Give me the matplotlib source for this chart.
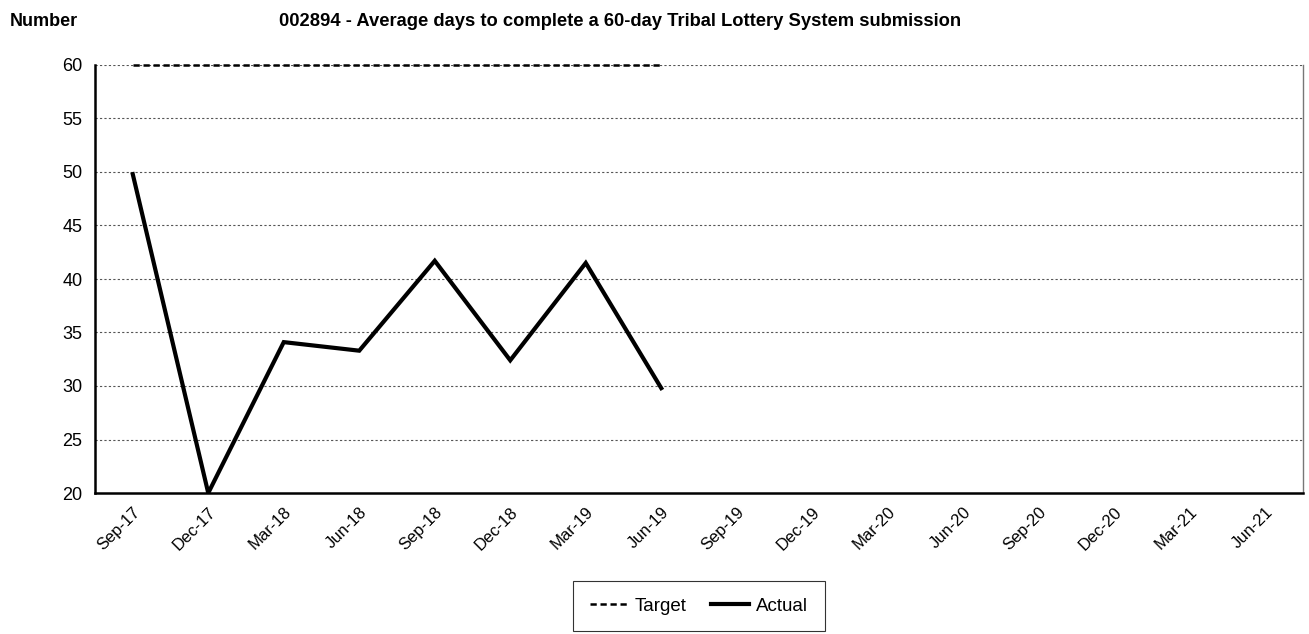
import matplotlib
matplotlib.use("Agg")
import matplotlib.pyplot as plt

plt.rcParams['font.family'] = ['Liberation Sans', 'DejaVu Sans']

categories = ["Sep-17", "Dec-17", "Mar-18", "Jun-18", "Sep-18", "Dec-18", "Mar-19", "Jun-19",
              "Sep-19", "Dec-19", "Mar-20", "Jun-20", "Sep-20", "Dec-20", "Mar-21", "Jun-21"]
actual = [49.8, 20.0, 34.1, 33.3, 41.7, 32.4, 41.5, 29.8]
target = [60, 60, 60, 60, 60, 60, 60, 60]
y_ticks = [20, 25, 30, 35, 40, 45, 50, 55, 60]

fig = plt.figure(figsize=(13.09, 6.34), dpi=100)
ax = fig.add_axes([95/1309, 1-493/634, (1303-95)/1309, (493-65)/634])

x_all = list(range(len(categories)))
ax.plot(x_all[:len(target)], target, color='black', linestyle=(0, (2.5, 1.5)), linewidth=1.8,
        label='Target', zorder=3, clip_on=False)
ax.plot(x_all[:len(actual)], actual, color='black', linewidth=3, label='Actual', zorder=4,
        solid_joinstyle='miter')

ax.set_xlim(-0.5, len(categories) - 0.5)
ax.set_ylim(20, 60)
ax.set_yticks(y_ticks)
ax.set_yticklabels([str(v) for v in y_ticks], fontsize=13)
ax.set_xticks(x_all)
ax.set_xticklabels(categories, rotation=45, ha='right', va='top', rotation_mode='anchor', fontsize=12)
ax.tick_params(axis='y', length=0, pad=9)
ax.tick_params(axis='x', length=0, pad=8)

for y in y_ticks[1:]:
    ax.axhline(y, color='#555555', linestyle=(0, (2, 2)), linewidth=0.8, zorder=1)

ax.spines['top'].set_visible(False)
ax.spines['right'].set_color('#777777')
ax.spines['right'].set_linewidth(1)
ax.spines['left'].set_linewidth(1.8)
ax.spines['bottom'].set_linewidth(1.8)

fig.text(10/1309, 1-21/634, "Number", fontsize=13, fontweight='bold', ha='left', va='center')
fig.text(620/1309, 1-21/634, "002894 - Average days to complete a 60-day Tribal Lottery System submission",
         fontsize=13.2, fontweight='bold', ha='center', va='center')

leg = fig.legend(loc='center', bbox_to_anchor=(699/1309, 1-606/634), ncol=2, fontsize=13.5,
                 frameon=True, fancybox=False, edgecolor='black', handlelength=2.0,
                 columnspacing=1.3, handletextpad=0.4, borderpad=0.9, borderaxespad=0)
leg.get_frame().set_linewidth(0.8)

fig.savefig("out.png", dpi=100)
